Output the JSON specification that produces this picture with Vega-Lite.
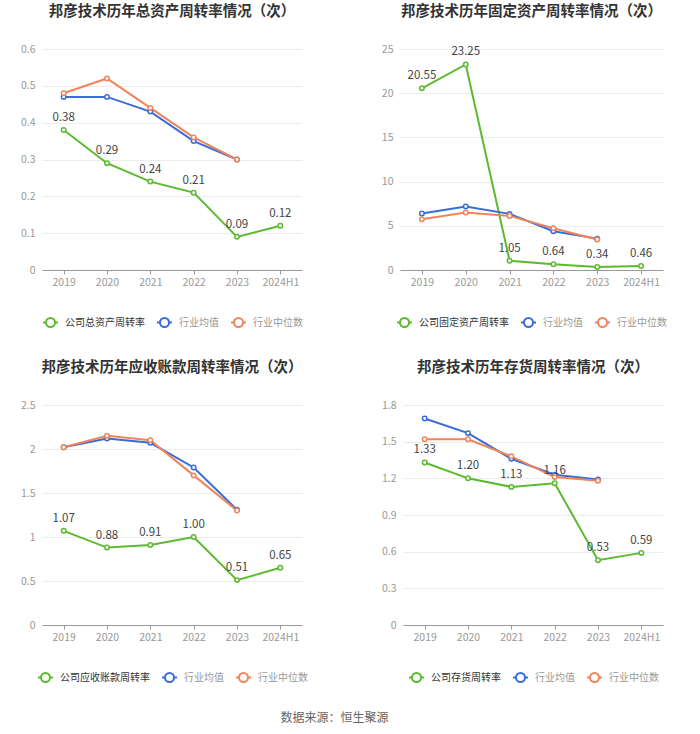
{
  "$schema": "https://vega.github.io/schema/vega-lite/v6.json",
  "padding": {"left": 2, "top": 3, "right": 0, "bottom": 0},
  "background": "white",
  "datasets": {
    "d": [
      {"p": "A", "year": "2019", "s": "公司总资产周转率", "v": 0.38},
      {"p": "A", "year": "2020", "s": "公司总资产周转率", "v": 0.29},
      {"p": "A", "year": "2021", "s": "公司总资产周转率", "v": 0.24},
      {"p": "A", "year": "2022", "s": "公司总资产周转率", "v": 0.21},
      {"p": "A", "year": "2023", "s": "公司总资产周转率", "v": 0.09},
      {"p": "A", "year": "2024H1", "s": "公司总资产周转率", "v": 0.12},
      {"p": "A", "year": "2019", "s": "行业均值", "v": 0.47},
      {"p": "A", "year": "2020", "s": "行业均值", "v": 0.47},
      {"p": "A", "year": "2021", "s": "行业均值", "v": 0.43},
      {"p": "A", "year": "2022", "s": "行业均值", "v": 0.35},
      {"p": "A", "year": "2023", "s": "行业均值", "v": 0.30},
      {"p": "A", "year": "2019", "s": "行业中位数", "v": 0.48},
      {"p": "A", "year": "2020", "s": "行业中位数", "v": 0.52},
      {"p": "A", "year": "2021", "s": "行业中位数", "v": 0.44},
      {"p": "A", "year": "2022", "s": "行业中位数", "v": 0.36},
      {"p": "A", "year": "2023", "s": "行业中位数", "v": 0.30},

      {"p": "B", "year": "2019", "s": "公司固定资产周转率", "v": 20.55},
      {"p": "B", "year": "2020", "s": "公司固定资产周转率", "v": 23.25},
      {"p": "B", "year": "2021", "s": "公司固定资产周转率", "v": 1.05},
      {"p": "B", "year": "2022", "s": "公司固定资产周转率", "v": 0.64},
      {"p": "B", "year": "2023", "s": "公司固定资产周转率", "v": 0.34},
      {"p": "B", "year": "2024H1", "s": "公司固定资产周转率", "v": 0.46},
      {"p": "B", "year": "2019", "s": "行业均值", "v": 6.38},
      {"p": "B", "year": "2020", "s": "行业均值", "v": 7.18},
      {"p": "B", "year": "2021", "s": "行业均值", "v": 6.35},
      {"p": "B", "year": "2022", "s": "行业均值", "v": 4.38},
      {"p": "B", "year": "2023", "s": "行业均值", "v": 3.55},
      {"p": "B", "year": "2019", "s": "行业中位数", "v": 5.74},
      {"p": "B", "year": "2020", "s": "行业中位数", "v": 6.5},
      {"p": "B", "year": "2021", "s": "行业中位数", "v": 6.12},
      {"p": "B", "year": "2022", "s": "行业中位数", "v": 4.72},
      {"p": "B", "year": "2023", "s": "行业中位数", "v": 3.44},

      {"p": "C", "year": "2019", "s": "公司应收账款周转率", "v": 1.07},
      {"p": "C", "year": "2020", "s": "公司应收账款周转率", "v": 0.88},
      {"p": "C", "year": "2021", "s": "公司应收账款周转率", "v": 0.91},
      {"p": "C", "year": "2022", "s": "公司应收账款周转率", "v": 1.00},
      {"p": "C", "year": "2023", "s": "公司应收账款周转率", "v": 0.51},
      {"p": "C", "year": "2024H1", "s": "公司应收账款周转率", "v": 0.65},
      {"p": "C", "year": "2019", "s": "行业均值", "v": 2.02},
      {"p": "C", "year": "2020", "s": "行业均值", "v": 2.12},
      {"p": "C", "year": "2021", "s": "行业均值", "v": 2.07},
      {"p": "C", "year": "2022", "s": "行业均值", "v": 1.79},
      {"p": "C", "year": "2023", "s": "行业均值", "v": 1.31},
      {"p": "C", "year": "2019", "s": "行业中位数", "v": 2.02},
      {"p": "C", "year": "2020", "s": "行业中位数", "v": 2.15},
      {"p": "C", "year": "2021", "s": "行业中位数", "v": 2.10},
      {"p": "C", "year": "2022", "s": "行业中位数", "v": 1.70},
      {"p": "C", "year": "2023", "s": "行业中位数", "v": 1.30},

      {"p": "D", "year": "2019", "s": "公司存货周转率", "v": 1.33},
      {"p": "D", "year": "2020", "s": "公司存货周转率", "v": 1.20},
      {"p": "D", "year": "2021", "s": "公司存货周转率", "v": 1.13},
      {"p": "D", "year": "2022", "s": "公司存货周转率", "v": 1.16},
      {"p": "D", "year": "2023", "s": "公司存货周转率", "v": 0.53},
      {"p": "D", "year": "2024H1", "s": "公司存货周转率", "v": 0.59},
      {"p": "D", "year": "2019", "s": "行业均值", "v": 1.69},
      {"p": "D", "year": "2020", "s": "行业均值", "v": 1.57},
      {"p": "D", "year": "2021", "s": "行业均值", "v": 1.36},
      {"p": "D", "year": "2022", "s": "行业均值", "v": 1.23},
      {"p": "D", "year": "2023", "s": "行业均值", "v": 1.19},
      {"p": "D", "year": "2019", "s": "行业中位数", "v": 1.52},
      {"p": "D", "year": "2020", "s": "行业中位数", "v": 1.52},
      {"p": "D", "year": "2021", "s": "行业中位数", "v": 1.38},
      {"p": "D", "year": "2022", "s": "行业中位数", "v": 1.21},
      {"p": "D", "year": "2023", "s": "行业中位数", "v": 1.18}
    ]
  },
  "title": {"text": "数据来源：恒生聚源", "orient": "bottom", "anchor": "middle", "fontSize": 12, "fontWeight": "normal", "color": "#666666", "offset": 27},
  "spacing": 28,
  "resolve": {"scale": {"color": "independent", "x": "independent", "y": "independent"}, "legend": {"color": "independent"}},
  "vconcat": [
    {
      "spacing": 57,
      "resolve": {"scale": {"color": "independent", "x": "independent", "y": "independent"}, "legend": {"color": "independent"}},
      "hconcat": [
        {
          "title": {"text": "邦彦技术历年总资产周转率情况（次）"},
          "width": 260, "height": 221,
          "data": {"name": "d"},
          "transform": [{"filter": "datum.p == 'A'"}],
          "encoding": {
            "x": {"field": "year", "type": "ordinal", "sort": ["2019", "2020", "2021", "2022", "2023", "2024H1"], "scale": {"type": "point", "padding": 0.5}, "axis": {"title": null}},
            "y": {"field": "v", "type": "quantitative", "scale": {"domain": [0, 0.6]}, "axis": {"title": null, "values": [0, 0.1, 0.2, 0.3, 0.4, 0.5, 0.6], "format": "~g"}},
            "color": {"field": "s", "type": "nominal", "scale": {"domain": ["公司总资产周转率", "行业均值", "行业中位数"], "range": ["#5BBA2E", "#3A6CD9", "#F0845A"]},
              "legend": {"encode": {"labels": {"update": {"fill": {"signal": "indexof(datum.label, '公司') == 0 ? '#333333' : '#999999'"}}}, "symbols": {"update": {"stroke": {"signal": "datum.value == '行业均值' ? '#90AAEA' : datum.value == '行业中位数' ? '#F5B49A' : '#5BBA2E'"}, "fill": {"value": "white"}, "fillOpacity": {"value": 1}}}}}}
          },
          "layer": [
            {"mark": {"type": "line", "strokeWidth": 2}},
            {"mark": {"type": "point", "filled": false, "fill": "white", "fillOpacity": 1, "opacity": 1, "size": 20, "strokeWidth": 1.5}},
            {"transform": [{"filter": "indexof(datum.s, '公司') == 0"}], "mark": {"type": "text", "dy": -12, "fontSize": 11.5, "color": "#444444"}, "encoding": {"text": {"field": "v", "format": ".2f"}, "color": {"value": "#444444"}}}
          ]
        },
        {
          "title": {"text": "邦彦技术历年固定资产周转率情况（次）"},
          "width": 263, "height": 221,
          "data": {"name": "d"},
          "transform": [{"filter": "datum.p == 'B'"}],
          "encoding": {
            "x": {"field": "year", "type": "ordinal", "sort": ["2019", "2020", "2021", "2022", "2023", "2024H1"], "scale": {"type": "point", "padding": 0.5}, "axis": {"title": null}},
            "y": {"field": "v", "type": "quantitative", "scale": {"domain": [0, 25]}, "axis": {"title": null, "values": [0, 5, 10, 15, 20, 25], "format": "~g"}},
            "color": {"field": "s", "type": "nominal", "scale": {"domain": ["公司固定资产周转率", "行业均值", "行业中位数"], "range": ["#5BBA2E", "#3A6CD9", "#F0845A"]},
              "legend": {"encode": {"labels": {"update": {"fill": {"signal": "indexof(datum.label, '公司') == 0 ? '#333333' : '#999999'"}}}, "symbols": {"update": {"stroke": {"signal": "datum.value == '行业均值' ? '#90AAEA' : datum.value == '行业中位数' ? '#F5B49A' : '#5BBA2E'"}, "fill": {"value": "white"}, "fillOpacity": {"value": 1}}}}}}
          },
          "layer": [
            {"mark": {"type": "line", "strokeWidth": 2}},
            {"mark": {"type": "point", "filled": false, "fill": "white", "fillOpacity": 1, "opacity": 1, "size": 20, "strokeWidth": 1.5}},
            {"transform": [{"filter": "indexof(datum.s, '公司') == 0"}], "mark": {"type": "text", "dy": -12, "fontSize": 11.5, "color": "#444444"}, "encoding": {"text": {"field": "v", "format": ".2f"}, "color": {"value": "#444444"}}}
          ]
        }
      ]
    },
    {
      "spacing": 55,
      "resolve": {"scale": {"color": "independent", "x": "independent", "y": "independent"}, "legend": {"color": "independent"}},
      "hconcat": [
        {
          "title": {"text": "邦彦技术历年应收账款周转率情况（次）"},
          "width": 260, "height": 220,
          "data": {"name": "d"},
          "transform": [{"filter": "datum.p == 'C'"}],
          "encoding": {
            "x": {"field": "year", "type": "ordinal", "sort": ["2019", "2020", "2021", "2022", "2023", "2024H1"], "scale": {"type": "point", "padding": 0.5}, "axis": {"title": null}},
            "y": {"field": "v", "type": "quantitative", "scale": {"domain": [0, 2.5]}, "axis": {"title": null, "values": [0, 0.5, 1, 1.5, 2, 2.5], "format": "~g"}},
            "color": {"field": "s", "type": "nominal", "scale": {"domain": ["公司应收账款周转率", "行业均值", "行业中位数"], "range": ["#5BBA2E", "#3A6CD9", "#F0845A"]},
              "legend": {"encode": {"labels": {"update": {"fill": {"signal": "indexof(datum.label, '公司') == 0 ? '#333333' : '#999999'"}}}, "symbols": {"update": {"stroke": {"signal": "datum.value == '行业均值' ? '#90AAEA' : datum.value == '行业中位数' ? '#F5B49A' : '#5BBA2E'"}, "fill": {"value": "white"}, "fillOpacity": {"value": 1}}}}}}
          },
          "layer": [
            {"mark": {"type": "line", "strokeWidth": 2}},
            {"mark": {"type": "point", "filled": false, "fill": "white", "fillOpacity": 1, "opacity": 1, "size": 20, "strokeWidth": 1.5}},
            {"transform": [{"filter": "indexof(datum.s, '公司') == 0"}], "mark": {"type": "text", "dy": -12, "fontSize": 11.5, "color": "#444444"}, "encoding": {"text": {"field": "v", "format": ".2f"}, "color": {"value": "#444444"}}}
          ]
        },
        {
          "title": {"text": "邦彦技术历年存货周转率情况（次）"},
          "width": 260, "height": 220,
          "data": {"name": "d"},
          "transform": [{"filter": "datum.p == 'D'"}],
          "encoding": {
            "x": {"field": "year", "type": "ordinal", "sort": ["2019", "2020", "2021", "2022", "2023", "2024H1"], "scale": {"type": "point", "padding": 0.5}, "axis": {"title": null}},
            "y": {"field": "v", "type": "quantitative", "scale": {"domain": [0, 1.8]}, "axis": {"title": null, "values": [0, 0.3, 0.6, 0.9, 1.2, 1.5, 1.8], "format": "~g"}},
            "color": {"field": "s", "type": "nominal", "scale": {"domain": ["公司存货周转率", "行业均值", "行业中位数"], "range": ["#5BBA2E", "#3A6CD9", "#F0845A"]},
              "legend": {"encode": {"labels": {"update": {"fill": {"signal": "indexof(datum.label, '公司') == 0 ? '#333333' : '#999999'"}}}, "symbols": {"update": {"stroke": {"signal": "datum.value == '行业均值' ? '#90AAEA' : datum.value == '行业中位数' ? '#F5B49A' : '#5BBA2E'"}, "fill": {"value": "white"}, "fillOpacity": {"value": 1}}}}}}
          },
          "layer": [
            {"mark": {"type": "line", "strokeWidth": 2}},
            {"mark": {"type": "point", "filled": false, "fill": "white", "fillOpacity": 1, "opacity": 1, "size": 20, "strokeWidth": 1.5}},
            {"transform": [{"filter": "indexof(datum.s, '公司') == 0"}], "mark": {"type": "text", "dy": -12, "fontSize": 11.5, "color": "#444444"}, "encoding": {"text": {"field": "v", "format": ".2f"}, "color": {"value": "#444444"}}}
          ]
        }
      ]
    }
  ],
  "config": {
    "font": "Noto Sans CJK SC",
    "view": {"stroke": null},
    "title": {"fontSize": 14.5, "fontWeight": "bold", "color": "#333333", "anchor": "middle", "offset": 25},
    "axis": {"labelFontSize": 10.5, "labelColor": "#999999", "gridColor": "#ececec", "domainColor": "#999999", "tickColor": "#999999"},
    "axisY": {"domain": false, "ticks": false, "grid": true, "labelPadding": 7, "minExtent": 40, "maxExtent": 40},
    "axisX": {"grid": false, "tickSize": 4, "labelPadding": 3, "labelAngle": 0, "domainWidth": 1},
    "legend": {
      "orient": "bottom",
      "direction": "horizontal",
      "title": null,
      "offset": 26,
      "symbolType": "M-1,0L-0.6,0M0.6,0L1,0M0.6,0A0.6,0.6,0,1,1,-0.6,0A0.6,0.6,0,1,1,0.6,0",
      "symbolSize": 225,
      "symbolStrokeWidth": 2,
      "labelFontSize": 10,
      "labelOffset": 6,
      "columnPadding": 8,
      "layout": {"bottom": {"anchor": "middle"}}
    }
  }
}
